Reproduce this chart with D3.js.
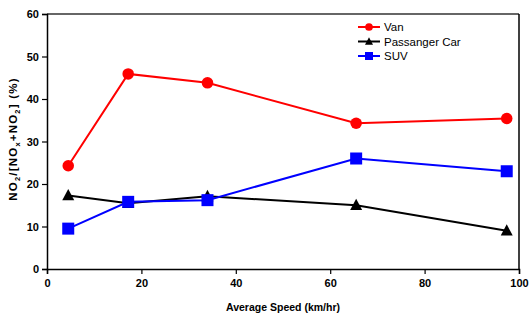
<!DOCTYPE html>
<html><head><meta charset="utf-8">
<script src="https://cdn.jsdelivr.net/npm/d3@7"></script>
<style>body{margin:0;background:#fff}svg{display:block}text{font-family:"Liberation Sans",Arial,sans-serif}</style>
</head><body>
<svg id="c" width="529" height="320"></svg>
<script>
const speeds = [4.5, 17.2, 34.0, 65.5, 97.4];
const van = [24.3, 45.9, 43.8, 34.3, 35.4];
const car = [17.3, 15.5, 17.1, 15.0, 9.0];
const suv = [9.5, 15.8, 16.2, 26.0, 23.0];
const xTicks = [0, 20, 40, 60, 80, 100];
const yTicks = [0, 10, 20, 30, 40, 50, 60];
const seriesNames = ["Van", "Passanger Car", "SUV"];
const seriesColors = ["#ff0000", "#000000", "#0000ff"];
const seriesShapes = ["circle", "triangle", "square"];

const svg = d3.select("#c");
const m = {l:47, r:10, t:14, b:51};
const W = 529, H = 320;
const x = d3.scaleLinear().domain([0,100]).range([m.l, W-m.r]);
const y = d3.scaleLinear().domain([0,60]).range([H-m.b, m.t]);

svg.append("line").attr("x1",x(0)).attr("x2",x(100)).attr("y1",y(60)).attr("y2",y(60)).attr("stroke","#333").attr("stroke-width",1.5);
svg.append("line").attr("x1",x(100)).attr("x2",x(100)).attr("y1",y(60)).attr("y2",y(0)).attr("stroke","#000").attr("stroke-width",1.5);

const xa = svg.append("g").attr("transform",`translate(0,${y(0)})`)
  .call(d3.axisBottom(x).tickValues(xTicks).tickSize(5).tickPadding(5).tickFormat(d3.format("d")));
const ya = svg.append("g").attr("transform",`translate(${x(0)},0)`)
  .call(d3.axisLeft(y).tickValues(yTicks).tickSize(5).tickPadding(3).tickFormat(d3.format("d")));
[xa,ya].forEach(a=>{
  a.select(".domain").attr("stroke","#000").attr("stroke-width",1.5);
  a.selectAll(".tick line").attr("stroke","#000").attr("stroke-width",1.2);
  a.selectAll(".tick text").attr("font-size",11).attr("font-weight","bold").attr("fill","#000")
    .style("font-family",'"Liberation Sans",Arial,sans-serif');
});

svg.append("text").attr("x",(x(0)+x(100))/2).attr("y",311).attr("text-anchor","middle")
  .attr("font-size",10.5).attr("font-weight","bold").text("Average Speed (km/hr)");

const yl = svg.append("text").attr("transform",`translate(17,139) rotate(-90)`)
  .attr("text-anchor","middle").attr("font-size",11.5).attr("font-weight","bold").attr("letter-spacing",1.2);
const parts = [["NO",0],["2",1],["/[NO",0],["x",1],["+NO",0],["2",1],["] (%)",0]];
parts.forEach(([t,s],i)=>{
  const ts = yl.append("tspan").text(t);
  if(s) ts.attr("font-size",7.5).attr("dy",3);
  else if(i>0) ts.attr("dy",-3);
});

function marker(g, shape, cx, cy, color, size){
  if(shape==="circle") g.append("circle").attr("cx",cx).attr("cy",cy).attr("r",size*0.48).attr("fill",color);
  else if(shape==="square") g.append("rect").attr("x",cx-size/2).attr("y",cy-size/2).attr("width",size).attr("height",size).attr("fill",color);
  else { const h=size*0.9; g.append("path").attr("d",`M${cx},${cy-h*0.6}L${cx+size/2},${cy+h*0.45}L${cx-size/2},${cy+h*0.45}Z`).attr("fill",color); }
}

const data = [van, car, suv];
const line = d3.line().x((d,i)=>x(speeds[i])).y(d=>y(d));
data.forEach((vals,k)=>{
  svg.append("path").datum(vals).attr("d",line).attr("fill","none").attr("stroke",seriesColors[k]).attr("stroke-width",2);
});
data.forEach((vals,k)=>{
  const g = svg.append("g");
  vals.forEach((v,i)=>marker(g, seriesShapes[k], x(speeds[i]), y(v), seriesColors[k], 12));
});

seriesNames.forEach((n,k)=>{
  const ly = 27 + k*14.5;
  svg.append("line").attr("x1",358).attr("x2",380).attr("y1",ly).attr("y2",ly).attr("stroke",seriesColors[k]).attr("stroke-width",2);
  marker(svg, seriesShapes[k], 369, ly, seriesColors[k], 8);
  svg.append("text").attr("x",384).attr("y",ly+4).attr("font-size",11.5).text(n);
});
</script>
</body></html>
